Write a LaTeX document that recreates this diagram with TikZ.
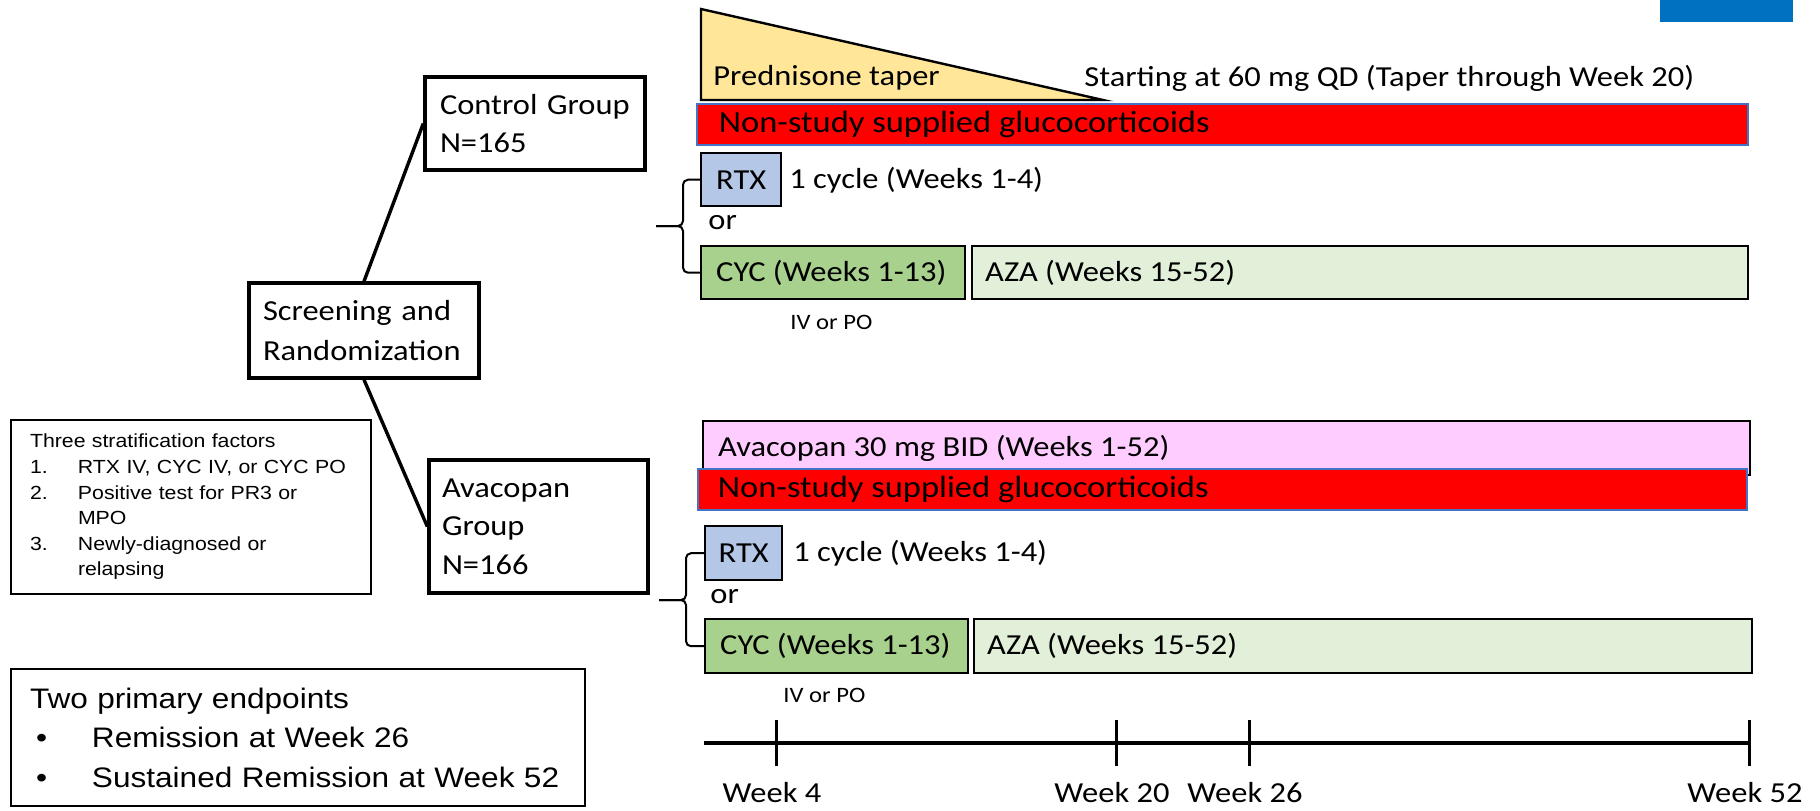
\documentclass[tikz,border=0pt]{standalone}
\usepackage{fontspec}
\setmainfont{Carlito}[FakeStretch=1.12]
\newfontfamily\arialf{Liberation Sans}[FakeStretch=1.12]
\definecolor{gcblue}{HTML}{4472C4}
\definecolor{taper}{HTML}{FFE699}
\definecolor{rtxblue}{HTML}{B4C7E7}
\definecolor{cycgreen}{HTML}{A9D18E}
\definecolor{azagreen}{HTML}{E2F0D9}
\definecolor{avapink}{HTML}{FFCCFF}
\definecolor{cornerblue}{HTML}{0070C0}
\begin{document}
\begin{tikzpicture}[x=0.5pt,y=-0.5pt,
  grp/.style={draw, line width=1.7pt, rectangle, inner ysep=0pt, align=left,
    font=\fontsize{14.5}{19}\selectfont},
  info/.style={draw, line width=0.9pt, rectangle, inner ysep=0pt, align=left},
  bar/.style={draw, line width=1.2pt, rectangle, anchor=north west, inner ysep=0pt,
    font=\fontsize{14.5}{17}\selectfont},
  gc/.style={bar, fill=red, draw=gcblue, line width=0.9pt,
    font=\fontsize{15.4}{18}\selectfont},
  lbl/.style={inner sep=0pt, anchor=west, font=\fontsize{14.5}{17}\selectfont},
  small/.style={inner sep=0pt, anchor=west, font=\fontsize{11}{13}\selectfont},
  wk/.style={inner sep=0pt, font=\fontsize{14.5}{17}\selectfont},
  conn/.style={line width=1.7pt},
  brk/.style={line width=1pt, rounded corners=2.5pt},
  tline/.style={line width=2pt},
  tickln/.style={line width=1.5pt}
]
\useasboundingbox (0,0) rectangle (1820,810);

% corner mark
\fill[cornerblue] (1660,0) rectangle (1793,22);

% left side boxes
\node[grp, minimum width=110pt, minimum height=46.5pt, text width=95pt, inner xsep=7.5pt]
  (control) at (535,123.5) {Control Group\\N=165};
\node[grp, minimum width=115pt, minimum height=47.5pt, text width=101pt, inner xsep=7pt,
  font=\fontsize{14.5}{20}\selectfont]
  (screen) at (364,330.5) {Screening and\\Randomization};
\node[grp, minimum width=109.5pt, minimum height=66.5pt, text width=96.5pt, inner xsep=6.5pt,
  font=\fontsize{14.5}{19.25}\selectfont]
  (avac) at (538.5,526.5) {Avacopan\\Group\\N=166};

\draw[conn] (screen.north) -- (control.west);
\draw[conn] (screen.south) -- (avac.west);

\node[info, minimum width=180pt, minimum height=87pt, text width=161pt, inner xsep=9.5pt,
  font=\arialf\fontsize{9.5}{12.8}\selectfont]
  (strat) at (191,507) {Three stratification factors\\
  \makebox[24pt][l]{1.}RTX IV, CYC IV, or CYC PO\\
  \makebox[24pt][l]{2.}Positive test for PR3 or\\
  \hspace*{24pt}MPO\\
  \makebox[24pt][l]{3.}Newly-diagnosed or\\
  \hspace*{24pt}relapsing};

\node[info, minimum width=287pt, minimum height=68.5pt, text width=268pt, inner xsep=9.5pt,
  font=\arialf\fontsize{14.1}{19.75}\selectfont]
  (endp) at (298,737.5) {Two primary endpoints\\
  \hspace*{3pt}\makebox[28pt][l]{\textbullet}Remission at Week 26\\
  \hspace*{3pt}\makebox[28pt][l]{\textbullet}Sustained Remission at Week 52};

% control arm
\filldraw[fill=taper, draw=black, line width=1.2pt] (701,9) -- (701,100) -- (1103,100) -- cycle;
\node[lbl] (pred) at (713,78) {Prednisone taper};
\node[lbl] (start) at (1084,78) {Starting at 60 mg QD (Taper through Week 20)};

\node[gc, minimum width=525.5pt, minimum height=20.5pt, inner xsep=11pt]
  (gc1) at (696,103) {\makebox[503.5pt][l]{Non-study supplied glucocorticoids}};

\node[bar, fill=rtxblue, minimum width=40pt, minimum height=26.5pt, inner xsep=0pt]
  (rtx1) at (700,152) {RTX};
\node[lbl] (cyc1txt) at (789,180) {1 cycle (Weeks 1-4)};
\node[lbl] (or1) at (708,223) {or};
\node[bar, fill=cycgreen, minimum width=132pt, minimum height=26.5pt, inner xsep=7.5pt]
  (cyc1) at (700,245) {\makebox[117pt][l]{CYC (Weeks 1-13)}};
\node[bar, fill=azagreen, minimum width=388pt, minimum height=26.5pt, inner xsep=6.5pt]
  (aza1) at (971,245) {\makebox[375pt][l]{AZA (Weeks 15-52)}};
\node[small] (ivpo1) at (790,322) {IV or PO};
\draw[brk] (rtx1.west) -| (683,226) -- (656,226);
\draw[brk] (cyc1.west) -| (683,226) -- (656,226);

% avacopan arm
\node[bar, fill=avapink, minimum width=523.5pt, minimum height=27pt, inner xsep=7.5pt]
  (ava) at (702,420) {\makebox[508.5pt][l]{Avacopan 30 mg BID (Weeks 1-52)}};
\node[gc, minimum width=524.5pt, minimum height=20.5pt, inner xsep=10pt]
  (gc2) at (697,468) {\makebox[504.5pt][l]{Non-study supplied glucocorticoids}};

\node[bar, fill=rtxblue, minimum width=38.5pt, minimum height=27pt, inner xsep=0pt]
  (rtx2) at (704,525) {RTX};
\node[lbl] (cyc2txt) at (793,553) {1 cycle (Weeks 1-4)};
\node[lbl] (or2) at (710,597) {or};
\node[bar, fill=cycgreen, minimum width=131.5pt, minimum height=27pt, inner xsep=7.5pt]
  (cyc2) at (704,618) {\makebox[116.5pt][l]{CYC (Weeks 1-13)}};
\node[bar, fill=azagreen, minimum width=389pt, minimum height=27pt, inner xsep=6.5pt]
  (aza2) at (973,618) {\makebox[376pt][l]{AZA (Weeks 15-52)}};
\node[small] (ivpo2) at (783,695) {IV or PO};
\draw[brk] (rtx2.west) -| (686,600) -- (659,600);
\draw[brk] (cyc2.west) -| (686,600) -- (659,600);

% timeline
\coordinate (tl0) at (704,743);
\coordinate (tl52) at (1749,743);
\draw[tline] (tl0) -- (tl52);
\foreach \x in {776,1116,1249,1749} {
  \draw[tickln] (\x,720) -- (\x,766);
}
\node[wk] (w4) at (772,793) {Week 4};
\node[wk] (w20) at (1112,793) {Week 20};
\node[wk] (w26) at (1245,793) {Week 26};
\node[wk] (w52) at (1745,793) {Week 52};
\end{tikzpicture}
\end{document}
